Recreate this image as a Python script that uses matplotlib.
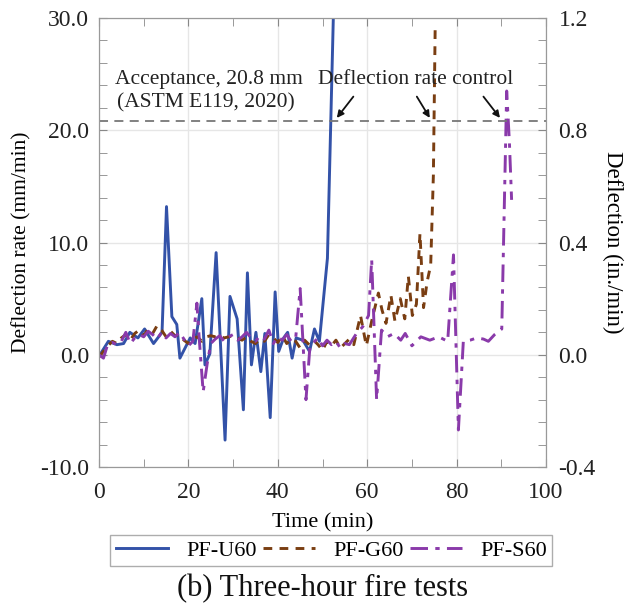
import numpy as np
import matplotlib.pyplot as plt
from matplotlib.ticker import MultipleLocator, FormatStrFormatter

plt.rcParams['font.family'] = ['Liberation Serif', 'DejaVu Serif']

# PF-U60 (solid blue)
t_u = [0.2, 2.1, 4.0, 5.5, 6.9, 8.7, 10.2, 12.2, 14.1, 15.1, 16.3, 17.4, 18.1,
       20.4, 21.5, 23.0, 23.7, 24.8, 26.2, 28.2, 29.3, 30.9, 32.3, 33.2, 34.1,
       35.1, 36.2, 37.1, 38.3, 39.4, 40.2, 41.3, 42.2, 43.2, 44.1, 45.6, 47.1,
       48.2, 49.3, 51.1, 52.6]
d_u = [0.0, 1.2, 0.9, 1.0, 2.0, 1.5, 2.3, 1.0, 2.0, 13.2, 3.4, 2.7, -0.3,
       1.5, 1.0, 5.0, -0.9, 0.1, 9.1, -7.6, 5.2, 3.2, -4.9, 7.3, -0.9,
       2.0, -1.5, 1.9, -5.6, 5.6, 0.3, 1.5, 2.0, -0.3, 1.5, 1.3, 0.3,
       2.3, 1.2, 8.6, 33.0]

# PF-G60 (dashed brown)
t_g = [0, 1, 2, 3, 4, 5, 6, 7, 8, 9, 10, 11, 12, 13, 14, 15, 16, 17, 18, 19,
       20, 21, 22, 23, 24, 25, 26, 27, 28, 29, 30, 31, 32, 33, 34, 35, 36, 37,
       38, 39, 40, 41, 42, 43, 44, 45, 46, 47, 48, 49, 50, 51, 52, 53, 54, 55,
       56, 57, 58.5, 59.8, 61.0, 62.5, 63.3, 64.2, 65.3, 66.2, 67.4, 68.4,
       69.2, 70.1, 71.0, 71.8, 72.6, 73.4, 74.2, 74.8, 75.2]
d_g = [-0.2, 0.3, 0.8, 1.2, 1.0, 1.5, 1.8, 1.3, 1.9, 2.2, 1.7, 2.3, 1.9, 2.6,
       2.2, 1.6, 2.1, 1.7, 1.8, 1.3, 1.0, 1.4, 1.6, 1.2, 1.6, 1.7, 1.6, 1.7,
       1.5, 1.6, 1.7, 1.5, 1.3, 1.6, 1.2, 1.0, 1.4, 1.2, 1.8, 1.5, 1.1, 1.7,
       1.0, 1.4, 1.2, 0.6, 1.3, 0.9, 1.3, 0.9, 0.4, 1.2, 0.8, 1.3, 0.6, 1.0,
       1.4, 0.9, 3.5, 0.8, 3.0, 5.5, 4.0, 2.8, 5.3, 3.0, 5.0, 3.2,
       7.0, 3.5, 4.5, 10.8, 4.2, 6.5, 8.0, 16.0, 29.1]

# PF-S60 (dash-dot purple)
t_s = [0, 1, 2, 3, 4, 5, 6, 7, 8, 9, 10, 11, 12, 13, 14, 15, 16, 17, 18, 19,
       20, 21, 21.9, 22.5, 23.3, 24.2, 25, 26, 27, 28, 29, 30, 31, 32, 33, 34,
       35, 36, 37, 38, 39, 40, 41, 42, 43, 44, 45.0, 46.3, 47.2, 48, 49, 50,
       51, 52, 53, 54, 55, 56, 57.6, 59, 60.3, 61.0, 62.1, 63.2, 64.5, 66,
       67.5, 68.5, 70, 72, 74, 76, 78, 79.3, 80.4, 81.5, 83, 84.5, 86, 87.1,
       88.5, 90.1, 91.2, 91.8, 92.3]
d_s = [0.0, -0.3, 1.0, 1.1, 0.9, 1.2, 2.0, 1.0, 1.5, 1.8, 1.6, 2.1, 1.8, 1.4,
       2.0, 1.5, 1.9, 1.6, 2.0, 1.4, 0.8, 1.2, 4.6, 1.0, -3.3, -0.8, 1.0, 1.4,
       1.7, 1.2, 1.6, 1.8, 1.3, 1.6, 2.0, 1.5, 1.2, 1.7, 1.4, 2.2, 1.0, 1.6,
       1.3, 1.8, 1.2, 1.5, 5.9, -4.0, 0.8, 1.1, 1.5, 0.8, 1.3, 0.9, 1.2, 0.6,
       1.0, 0.9, 1.9, 2.5, 3.5, 8.5, -4.0, 2.2, 1.6, 1.9, 1.3, 1.9, 0.8, 1.6,
       1.3, 1.6, 1.2, 8.9, -6.7, 1.2, 1.3, 1.5, 1.4, 1.2, 1.8, 2.3, 23.5, 19.0,
       13.8]

acceptance = 20.8

fig = plt.figure(figsize=(6.33, 6.07), dpi=100)
ax = fig.add_axes([0.1564, 0.2306, 0.7062, 0.7397])

ax.plot(t_u, d_u, color='#3352a8', lw=2.1, label='PF-U60')
ax.plot(t_g, d_g, color='#7a3e12', lw=2.1, dashes=(3, 2.5), label='PF-G60')
ax.plot(t_s, d_s, color='#8a3aaa', lw=2.1, dashes=(6, 2.5, 1.5, 2.5), label='PF-S60')
ax.axhline(acceptance, color='#777777', lw=1.3, dashes=(5, 3.5))

ax.set_xlim(0, 100)
ax.set_ylim(-10, 30)
ax.xaxis.set_major_locator(MultipleLocator(20))
ax.xaxis.set_minor_locator(MultipleLocator(10))
ax.yaxis.set_major_locator(MultipleLocator(10))
ax.yaxis.set_minor_locator(MultipleLocator(2))
ax.yaxis.set_major_formatter(FormatStrFormatter('%.1f'))
ax.grid(True, which='major', color='#e6e6e6', lw=1.0)
ax.tick_params(which='both', direction='in', colors='#888888', labelcolor='#222222',
               top=True, labelsize=17, length=6)
ax.tick_params(axis='x', which='both', pad=11)
ax.tick_params(axis='y', which='both', pad=7)
for s in ax.spines.values():
    s.set_color('#999999')

ax.set_xlabel('Time (min)', fontsize=16, labelpad=7)
ax.set_ylabel('Deflection rate (mm/min)', fontsize=15.5)
ax.yaxis.set_label_coords(-0.152, 0.5)

ax2 = ax.twinx()
ax2.set_ylim(-0.4, 1.2)
ax2.yaxis.set_major_locator(MultipleLocator(0.4))
ax2.yaxis.set_minor_locator(MultipleLocator(0.08))
ax2.yaxis.set_major_formatter(FormatStrFormatter('%.1f'))
ax2.tick_params(which='both', direction='in', colors='#888888', labelcolor='#222222',
                labelsize=17, length=6, pad=9)
for s in ax2.spines.values():
    s.set_color('#999999')
ax2.set_ylabel('Deflection (in./min)', fontsize=16.5, rotation=270, va='bottom')
ax2.yaxis.set_label_coords(1.125, 0.5)

ax.text(3.5, 24.1, 'Acceptance, 20.8 mm', fontsize=15.5, color='#222222')
ax.text(4.0, 22.0, '(ASTM E119, 2020)', fontsize=15.5, color='#222222')
ax.text(49.0, 24.1, 'Deflection rate control', fontsize=15.5, color='#222222')

arrows = [((56.9, 23.0), (53.2, 21.1)), ((71.1, 23.0), (74.0, 21.1)), ((86.0, 23.0), (89.7, 21.1))]
for start, end in arrows:
    ax.annotate('', xy=end, xytext=start,
                arrowprops=dict(arrowstyle='-|>', color='#111111', lw=1.3,
                                mutation_scale=10, shrinkA=0, shrinkB=0))

ax.legend(loc='upper center', bbox_to_anchor=(0.52, -0.151), ncol=3, fontsize=16,
          frameon=True, fancybox=False, edgecolor='#999999', handlelength=2.35,
          columnspacing=0.3, borderpad=0.25, handletextpad=0.8, borderaxespad=0)

fig.text(0.509, 0.018, '(b) Three-hour fire tests', fontsize=22, ha='center',
         va='baseline', color='#111111')

fig.savefig('out.png', dpi=100)
